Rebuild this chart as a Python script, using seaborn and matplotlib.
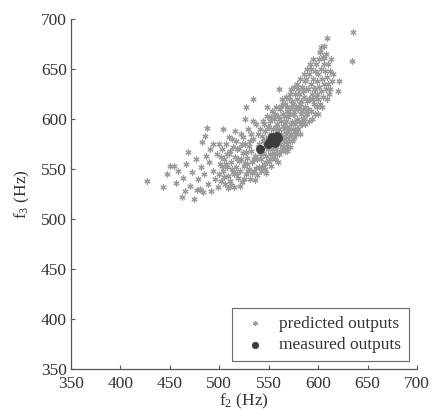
import numpy as np
import pandas as pd
import seaborn as sns
import matplotlib
matplotlib.use("Agg")
import matplotlib.pyplot as plt

# Predicted (f2, f3) pairs in Hz
pred_f2 = [
    # sparse left tail
    427, 443, 450, 454, 456, 462, 474, 468, 483, 494, 488, 447, 458, 463, 466, 470, 472, 476, 478, 480,
    482, 485, 487, 489, 490, 492, 494, 496, 498, 499, 465, 477, 484, 491, 486,
    # 500-539
    500, 501, 502, 503, 504, 505, 506, 507, 508, 509, 510, 511, 512, 513, 514, 515, 516, 517, 518, 519,
    520, 521, 522, 523, 524, 525, 526, 527, 528, 529, 530, 531, 532, 533, 534, 535, 536, 537, 538, 539,
    500, 502, 505, 507, 509, 511, 513, 515, 517, 519, 521, 523, 525, 527, 529, 531, 533, 535, 537, 539,
    504, 510, 516, 526, 534, 512, 520, 528, 536, 503, 508, 514, 518, 522, 526, 530, 532, 538,
    # 540-549
    540, 540, 541, 542, 542, 543, 544, 544, 545, 545, 546, 546, 547, 547, 548, 548, 549, 549, 541, 543,
    545, 547, 549, 544,
    # 550-559
    550, 550, 551, 551, 552, 552, 553, 553, 554, 554, 555, 555, 556, 556, 557, 557, 558, 558, 559, 559,
    550, 552, 554, 556, 558, 551, 553, 555, 557, 559,
    # 560-569
    560, 560, 561, 561, 562, 562, 563, 563, 564, 564, 565, 565, 566, 566, 567, 567, 568, 568, 569, 569,
    560, 561, 562, 563, 564, 565, 566, 567, 568, 569, 562, 564, 566, 568, 565,
    # 570-579
    570, 570, 571, 571, 572, 572, 573, 573, 574, 574, 575, 575, 576, 576, 577, 577, 578, 578, 579, 579,
    570, 571, 572, 573, 574, 575, 576, 577, 578, 579, 575, 573, 577, 571, 579,
    # 580-589
    580, 580, 581, 581, 582, 582, 583, 583, 584, 584, 585, 585, 586, 586, 587, 587, 588, 588, 589, 589,
    580, 582, 584, 586, 588, 581, 583, 585, 587, 589,
    # 590-599
    590, 590, 591, 591, 592, 592, 593, 593, 594, 594, 595, 595, 596, 596, 597, 597, 598, 598, 599, 599,
    591, 593, 595, 597, 599,
    # 600-615
    600, 600, 601, 601, 602, 602, 603, 603, 604, 605, 605, 606, 606, 607, 608, 608, 609, 610, 611, 612,
    613, 614, 600, 604, 609, 610, 612, 615, 606, 603,
    # scattered outliers
    635, 609, 634, 621, 620, 534, 527, 602, 606, 560, 548, 524,
]
pred_f3 = [
    538, 532, 553, 553, 536, 522, 520, 567, 577, 575, 591, 545, 548, 541, 555, 533, 547, 560, 540, 530,
    552, 545, 563, 535, 557, 528, 548, 540, 565, 532, 528, 529, 527, 570, 583,
    545, 555, 538, 570, 548, 560, 535, 575, 552, 543, 565, 538, 557, 580, 547, 532, 562, 552, 570, 541,
    558, 548, 585, 537, 566, 553, 575, 545, 561, 590, 550, 540, 568, 557, 580, 548, 563, 595, 544, 572,
    575, 562, 542, 555, 531, 568, 550, 545, 578, 560, 533, 575, 540, 567, 548, 578, 546, 560, 551, 585,
    590, 582, 588, 600, 598, 534, 571, 555, 539, 553, 565, 572, 546, 560, 556, 573, 585, 560,
    552, 575, 590, 560, 548, 583, 566, 598, 555, 572, 588, 550, 579, 563, 603, 557, 570, 592, 565, 552,
    595, 546, 582, 578,
    558, 575, 598, 565, 585, 553, 608, 570, 562, 590, 578, 600, 560, 583, 570, 612, 595, 565, 580, 557,
    592, 602, 573, 605, 588, 560, 578, 566, 592, 603,
    565, 590, 575, 610, 598, 568, 582, 620, 572, 605, 590, 578, 568, 615, 598, 585, 575, 608, 592, 572,
    600, 583, 613, 570, 593, 603, 580, 622, 588, 612, 585, 615, 596, 568, 570,
    578, 602, 590, 620, 572, 610, 585, 630, 597, 578, 615, 590, 605, 582, 625, 595, 585, 612, 600, 635,
    590, 605, 625, 595, 618, 580, 632, 588, 598, 620, 605, 612, 610, 583, 590,
    590, 610, 625, 598, 585, 640, 605, 618, 595, 632, 610, 600, 645, 622, 595, 612, 630, 605, 650, 618,
    630, 615, 608, 600, 640, 612, 595, 628, 638, 605,
    610, 630, 598, 645, 620, 655, 608, 635, 625, 600, 660, 640, 615, 630, 648, 605, 622, 655, 638, 612,
    620, 650, 620, 630, 625,
    620, 645, 660, 632, 667, 615, 650, 628, 640, 662, 622, 655, 635, 648, 630, 665, 642, 655, 625, 648,
    660, 638, 605, 612, 620, 635, 630, 645, 673, 672,
    687, 681, 658, 638, 628, 620, 612, 667, 661, 630, 612, 582,
]

# Measured (f2, f3) pairs in Hz
meas_f2 = [541, 549, 551, 553, 555, 556, 558, 557, 553, 559]
meas_f3 = [570, 575, 578, 577, 580, 576, 583, 579, 582, 581]

ticks = [350, 400, 450, 500, 550, 600, 650, 700]

pred = pd.DataFrame({"f2": pred_f2, "f3": pred_f3})
meas = pd.DataFrame({"f2": meas_f2, "f3": meas_f3})

sns.set_style("ticks")
plt.rcParams["font.family"] = ["Liberation Serif", "DejaVu Serif"]
plt.rcParams["mathtext.fontset"] = "custom"
plt.rcParams["mathtext.rm"] = "Liberation Serif"
plt.rcParams["mathtext.it"] = "Liberation Serif:italic"

text_col = "#333333"
axis_col = "#555555"
pred_col = "#9a9a9a"

fig = plt.figure(figsize=(4.35, 4.16), dpi=100)
ax = fig.add_axes([71 / 435, 47 / 416, 346 / 435, 350 / 416])

sns.scatterplot(data=pred, x="f2", y="f3", ax=ax, marker=(6, 2, 0), s=14,
                color=pred_col, edgecolor=pred_col, linewidth=0.9,
                label="predicted outputs", zorder=2)
sns.scatterplot(data=meas, x="f2", y="f3", ax=ax, marker="o", s=34,
                color="#3c3c3c", edgecolor="#3c3c3c", linewidth=0.5,
                label="measured outputs", zorder=3)

ax.set_xlim(350, 700)
ax.set_ylim(350, 700)
ax.set_xticks(ticks)
ax.set_yticks(ticks)
ax.tick_params(direction="in", length=3, width=0.8, colors=axis_col,
               labelcolor=text_col, labelsize=12.5, pad=3)
ax.tick_params(axis="x", pad=5)
sns.despine(ax=ax)
for sp in ("left", "bottom"):
    ax.spines[sp].set_color(axis_col)
    ax.spines[sp].set_linewidth(0.9)

ax.set_xlabel(r"$\mathregular{f_2}$ (Hz)", fontsize=12.5, color=text_col, labelpad=0)
ax.set_ylabel(r"$\mathregular{f_3}$ (Hz)", fontsize=12.5, color=text_col, labelpad=6)

leg = ax.legend(loc="lower right", fontsize=12.5, frameon=True, fancybox=False,
                borderpad=0.45, handletextpad=0.5, labelspacing=0.3,
                borderaxespad=0.45, handlelength=1.8, markerscale=0.8)
leg.get_frame().set_edgecolor("#444444")
leg.get_frame().set_linewidth(0.8)
for t in leg.get_texts():
    t.set_color(text_col)

fig.savefig("out.png", dpi=100, facecolor="white")
